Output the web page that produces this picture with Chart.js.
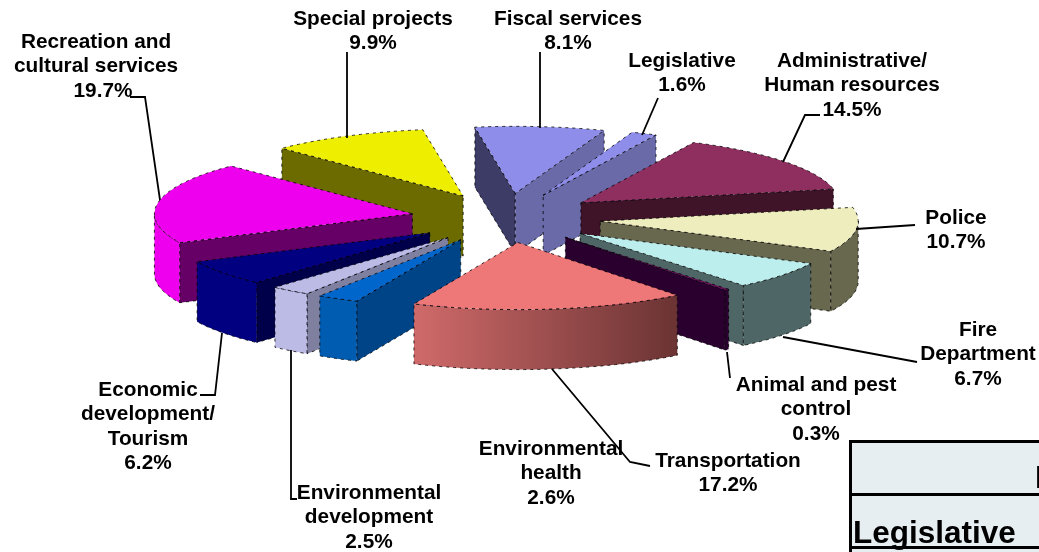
<!DOCTYPE html>
<html>
<head>
<meta charset="utf-8">
<title>Expenditure pie</title>
<script src="https://cdn.jsdelivr.net/npm/chart.js@4"></script>
<style>
  html, body { margin: 0; padding: 0; background: #fff; }
  canvas { display: block; }
</style>
</head>
<body>
<canvas id="pieChart" width="1039" height="552"></canvas>
<script>
// data, clockwise from the top
const categories = [
  ['Fiscal services'], ['Legislative'], ['Administrative/', 'Human resources'], ['Police'],
  ['Fire', 'Department'], ['Animal and pest', 'control'], ['Transportation'], ['Environmental', 'health'],
  ['Environmental', 'development'], ['Economic', 'development/', 'Tourism'], ['Recreation and', 'cultural services'], ['Special projects']
];
const shares = [8.1, 1.6, 14.5, 10.7, 6.7, 0.3, 17.2, 2.6, 2.5, 6.2, 19.7, 9.9];

// colours per slice
const topColors = ['#8e8eea', '#8e8eea', '#8e2f5f', '#ededbd', '#bdeeee', '#6b0f5f', '#ee7777', '#0066cc', '#bbbbe6', '#000080', '#ee00ee', '#eeee00'];
const startWall = ['#3c3c66', '#3c3c66', '#3f1428', '#68684f', '#4f6666', '#2a002e', '#6b3333', '#004488', '#7f7fa0', '#00004a', '#660066', '#6b6b00'];
const endWall = ['#6a6aa8', '#6a6aa8', '#3f1428', '#68684f', '#4f6666', '#2a002e', '#6b3333', '#004488', '#7f7fa0', '#00004a', '#660066', '#6b6b00'];
const rimFrom = ['#6a6aa8', '#6a6aa8', '#3f1428', '#68684f', '#4f6666', '#2a002e', '#6b3333', '#005cb0', '#bbbbe6', '#000080', '#ee00ee', '#6b6b00'];
const rimTo = ['#6a6aa8', '#6a6aa8', '#3f1428', '#68684f', '#4f6666', '#2a002e', '#d06a6a', '#005cb0', '#bbbbe6', '#000080', '#ee00ee', '#6b6b00'];

// pie look
const SQUASH = 0.26, EXPLODE = 95, DEPTH = 60;

// label anchors, same order as categories
const labelPos = [
  { x: 568, y: 19 }, { x: 682, y: 61 }, { x: 852, y: 61 }, { x: 956, y: 218 },
  { x: 978, y: 330 }, { x: 816, y: 385 }, { x: 728, y: 461 }, { x: 551, y: 449 },
  { x: 369, y: 493 }, { x: 148, y: 390 }, { x: 96, y: 42, pctX: 103 }, { x: 373, y: 19 }
];
const leaders = [
  [[540, 52], [540, 128]], [[658, 98], [642, 135]], [[820, 115], [805, 115], [783, 162]], [[915, 225], [856, 229]],
  [[917, 362], [783, 337]], [[727, 352], [730, 378]], [[650, 466], [630, 462], [552, 369]], [],
  [[297, 499], [291, 499], [291, 350]], [[200, 395], [215, 395], [222, 333]], [[130, 97], [145, 97], [160, 200]], [[347, 52], [347, 138]]
];

function dashedStroke(ctx) {
  ctx.save();
  ctx.strokeStyle = 'rgba(0,0,0,0.8)';
  ctx.lineWidth = 1;
  ctx.setLineDash([3, 4]);
  ctx.stroke();
  ctx.restore();
}

function drawSlice(ctx, arc, i) {
  const a0 = arc.startAngle, a1 = arc.endAngle, R = arc.outerRadius;
  const mid = (a0 + a1) / 2;
  const ax = arc.x + Math.cos(mid) * EXPLODE;
  const ay = arc.y + Math.sin(mid) * EXPLODE * SQUASH;
  const px = a => ax + Math.cos(a) * R;
  const py = a => ay + Math.sin(a) * R * SQUASH;

  const wall = (a, color) => {
    ctx.beginPath();
    ctx.moveTo(ax, ay);
    ctx.lineTo(px(a), py(a));
    ctx.lineTo(px(a), py(a) + DEPTH);
    ctx.lineTo(ax, ay + DEPTH);
    ctx.closePath();
    ctx.fillStyle = color;
    ctx.fill();
    dashedStroke(ctx);
  };
  if (Math.cos(a0) < 0) wall(a0, startWall[i]);
  if (Math.cos(a1) > 0) wall(a1, endWall[i]);

  // outer rim, only the part facing the viewer
  const s = Math.max(a0, 0), e = Math.min(a1, Math.PI);
  if (e > s) {
    const grad = ctx.createLinearGradient(px(s), 0, px(e), 0);
    grad.addColorStop(0, rimFrom[i]);
    grad.addColorStop(1, rimTo[i]);
    ctx.beginPath();
    ctx.ellipse(ax, ay, R, R * SQUASH, 0, s, e);
    ctx.ellipse(ax, ay + DEPTH, R, R * SQUASH, 0, e, s, true);
    ctx.closePath();
    ctx.fillStyle = grad;
    ctx.fill();
    dashedStroke(ctx);
  }

  // top face is the library's own arc, squashed and moved out
  ctx.save();
  ctx.translate(ax, ay);
  ctx.scale(1, SQUASH);
  ctx.translate(-arc.x, -arc.y);
  arc.draw(ctx);
  ctx.restore();

  ctx.beginPath();
  ctx.moveTo(ax, ay);
  ctx.ellipse(ax, ay, R, R * SQUASH, 0, a0, a1);
  ctx.closePath();
  dashedStroke(ctx);
}

const pie3d = {
  id: 'pie3d',
  beforeDatasetDraw(chart, args) {
    const ctx = chart.ctx;
    const arcs = args.meta.data;
    // back to front
    const order = arcs.map((a, i) => i).sort((p, q) =>
      Math.sin((arcs[p].startAngle + arcs[p].endAngle) / 2) - Math.sin((arcs[q].startAngle + arcs[q].endAngle) / 2));
    order.forEach(i => drawSlice(ctx, arcs[i], i));
    return false;
  },
  afterDraw(chart) {
    const ctx = chart.ctx;
    ctx.save();

    // leader lines
    ctx.strokeStyle = '#000';
    ctx.lineWidth = 1.8;
    leaders.forEach(pts => {
      if (!pts.length) return;
      ctx.beginPath();
      pts.forEach((p, j) => j ? ctx.lineTo(p[0], p[1]) : ctx.moveTo(p[0], p[1]));
      ctx.stroke();
    });

    // labels
    ctx.fillStyle = '#000';
    ctx.font = 'bold 20.8px "Liberation Sans", Arial, sans-serif';
    ctx.textAlign = 'center';
    ctx.textBaseline = 'middle';
    categories.forEach((lines, i) => {
      const pos = labelPos[i];
      lines.forEach((line, j) => ctx.fillText(line, pos.x, pos.y + j * 24.5));
      ctx.fillText(shares[i].toFixed(1) + '%', pos.pctX || pos.x, pos.y + lines.length * 24.5);
    });

    // corner of the table underneath
    ctx.fillStyle = '#e6eef2';
    ctx.fillRect(850, 441, 189, 111);
    ctx.fillStyle = '#000';
    ctx.fillRect(849, 440, 190, 3);
    ctx.fillRect(849, 493, 190, 3);
    ctx.fillRect(849, 546, 190, 3);
    ctx.fillRect(849, 440, 3, 112);
    ctx.textAlign = 'left';
    ctx.textBaseline = 'alphabetic';
    ctx.font = 'bold 31.5px "Liberation Sans", Arial, sans-serif';
    ctx.fillText('Legislative', 853, 543);
    ctx.fillText('E', 1035, 488);
    ctx.restore();
  }
};

new Chart(document.getElementById('pieChart'), {
  type: 'pie',
  data: {
    labels: categories,
    datasets: [{ data: shares, backgroundColor: topColors, borderWidth: 0 }]
  },
  options: {
    responsive: false,
    animation: false,
    rotation: -9,
    radius: 258,
    layout: { padding: { right: 27, bottom: 116 } },
    plugins: { legend: { display: false }, tooltip: { enabled: false } }
  },
  plugins: [pie3d]
});
</script>
</body>
</html>
